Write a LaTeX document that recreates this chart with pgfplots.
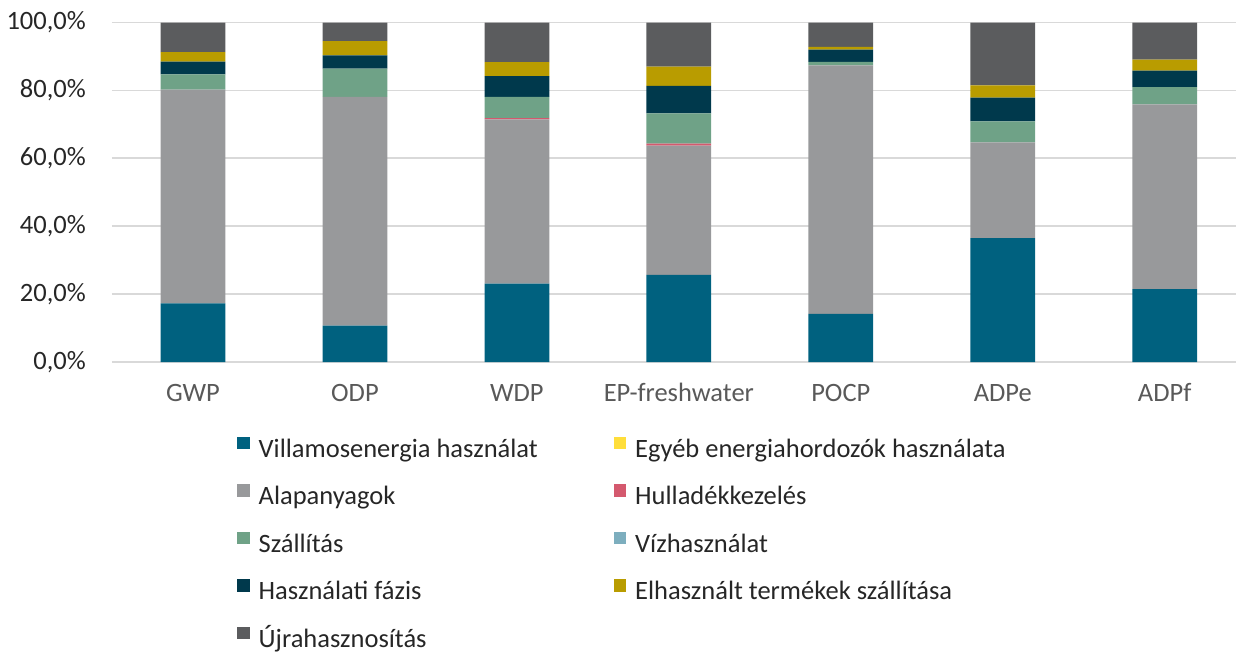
\documentclass[border=0pt]{standalone}
\usepackage{fontspec}
\setmainfont{Carlito}
\usepackage{pgfplots}
\pgfplotsset{compat=1.18}

\definecolor{villamos}{RGB}{0,97,127}
\definecolor{egyeb}{RGB}{255,222,59}
\definecolor{alap}{RGB}{152,153,155}
\definecolor{hull}{RGB}{212,89,110}
\definecolor{szall}{RGB}{111,162,135}
\definecolor{viz}{RGB}{125,174,190}
\definecolor{hasznf}{RGB}{0,57,76}
\definecolor{elhasz}{RGB}{185,156,0}
\definecolor{ujra}{RGB}{91,92,94}
\definecolor{gridgray}{RGB}{217,217,217}

\newcommand{\lbl}{\fontsize{26.5}{30}\selectfont}
\newcommand{\colA}[1]{\makebox[355pt][l]{#1}}

% columns: x, then shares in percent
\pgfplotstableread{
x  villamos egyeb alap hull szall viz hasznf elhasz ujra
0  17.3     0     62.9 0    4.5   0   3.8    2.8    8.7
1  10.7     0     67.4 0    8.3   0   3.9    4.2    5.5
2  23.1     0     48.4 0.3  6.3   0   6.1    4.1    11.7
3  25.7     0     38.0 0.6  8.9   0   8.1    5.7    13.0
4  14.2     0     73.2 0    1.0   0   3.6    0.8    7.2
5  36.5     0     28.2 0    6.2   0   7.0    3.6    18.5
6  21.5     0     54.4 0    5.1   0   4.8    3.3    10.9
}\data

\begin{document}
\begin{tikzpicture}
\begin{axis}[
    scale only axis,
    width=1124pt, height=339.5pt,
    ybar stacked, bar width=0.4,
    xmin=-0.5, xmax=6.44,
    ymin=0, ymax=100,
    xtick={0,...,6},
    xticklabels={GWP, ODP, WDP, EP-freshwater, POCP, ADPe, ADPf},
    ytick={0,20,40,60,80,100},
    yticklabels={{0,0\%},{20,0\%},{40,0\%},{60,0\%},{80,0\%},{100,0\%}},
    major tick length=0pt,
    axis line style={draw=none},
    ymajorgrids,
    major grid style={draw=gridgray, line width=1.8pt},
    xticklabel style={font=\lbl, text=black!65, anchor=base, inner sep=0pt, yshift=-39pt},
    yticklabel style={font=\lbl, text=black!85, anchor=east, inner sep=0pt, xshift=-26pt},
    legend columns=2,
    legend cell align=left,
    legend style={
        at={(0.1112,-0.1944)}, anchor=north west,
        draw=none, fill=none, inner sep=0pt, row sep=0pt,
        font=\lbl, text=black!85,
        nodes={inner sep=0pt, text height=29pt, text depth=18.5pt},
        /tikz/every odd column/.append style={column sep=9pt},
        /tikz/every even column/.append style={column sep=0pt},
    },
    legend image code/.code={\path[#1, draw=none] (0pt,2.5pt) rectangle (12.5pt,15pt);},
]
\addplot[fill=villamos, draw=none] table[x=x, y=villamos] {\data};
\addlegendentry{\colA{Villamosenergia használat}}
\addplot[fill=egyeb, draw=none] table[x=x, y=egyeb] {\data};
\addlegendentry{Egyéb energiahordozók használata}
\addplot[fill=alap, draw=none] table[x=x, y=alap] {\data};
\addlegendentry{\colA{Alapanyagok}}
\addplot[fill=hull, draw=none] table[x=x, y=hull] {\data};
\addlegendentry{Hulladékkezelés}
\addplot[fill=szall, draw=none] table[x=x, y=szall] {\data};
\addlegendentry{\colA{Szállítás}}
\addplot[fill=viz, draw=none] table[x=x, y=viz] {\data};
\addlegendentry{Vízhasználat}
\addplot[fill=hasznf, draw=none] table[x=x, y=hasznf] {\data};
\addlegendentry{\colA{Használati fázis}}
\addplot[fill=elhasz, draw=none] table[x=x, y=elhasz] {\data};
\addlegendentry{Elhasznált termékek szállítása}
\addplot[fill=ujra, draw=none] table[x=x, y=ujra] {\data};
\addlegendentry{\colA{Újrahasznosítás}}
\coordinate (o) at (rel axis cs:0,0);
\end{axis}
\pgfresetboundingbox
\path (o) ++(-112pt,-292pt) rectangle ++(1236pt,654pt);
\end{tikzpicture}
\end{document}
